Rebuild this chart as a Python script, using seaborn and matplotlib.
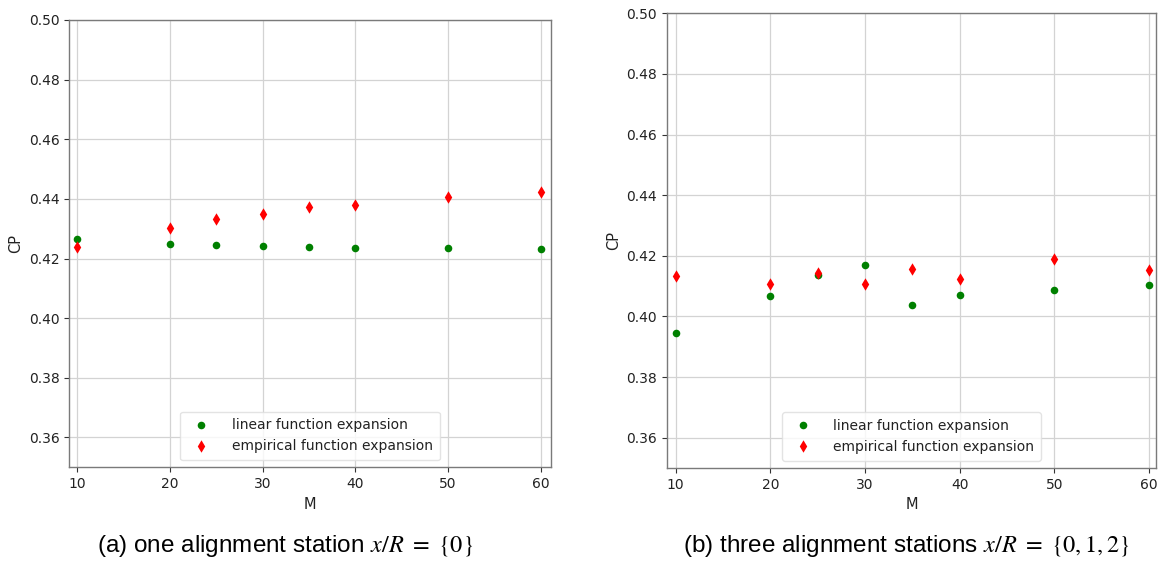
import matplotlib
matplotlib.use("Agg")
import matplotlib.pyplot as plt
import seaborn as sns
import pandas as pd
from matplotlib import font_manager

# ---- data ----
M_values = [10, 20, 25, 30, 35, 40, 50, 60]
one_station_linear = [0.4267, 0.4248, 0.4246, 0.4241, 0.4239, 0.4237, 0.4235, 0.4232]
one_station_empirical = [0.4238, 0.4304, 0.4334, 0.4350, 0.4374, 0.4381, 0.4406, 0.4424]
three_station_linear = [0.3945, 0.4066, 0.4137, 0.4170, 0.4039, 0.4070, 0.4087, 0.4103]
three_station_empirical = [0.4134, 0.4108, 0.4142, 0.4108, 0.4156, 0.4125, 0.4190, 0.4152]
series_labels = ["linear function expansion", "empirical function expansion"]
x_ticks = [10, 20, 30, 40, 50, 60]
y_ticks = [0.36, 0.38, 0.40, 0.42, 0.44, 0.46, 0.48, 0.50]
captions = [r"(a) one alignment station $x/R\ =\ \{0\}$",
            r"(b) three alignment stations $x/R\ =\ \{0, 1, 2\}$"]

sns.set_style("ticks")
plt.rcParams["font.family"] = ["DejaVu Sans"]
plt.rcParams["mathtext.fontset"] = "stix"

names = {f.name for f in font_manager.fontManager.ttflist}
cap_font = "Liberation Sans Narrow" if "Liberation Sans Narrow" in names else "Liberation Sans"
cap_size = 17.5 if cap_font == "Liberation Sans" else 19

fig = plt.figure(figsize=(11.61, 5.63), dpi=100)
ax1 = fig.add_axes([69.3 / 1161, 1 - 467.3 / 563, (550.7 - 69.3) / 1161, (467.3 - 20) / 563])
ax2 = fig.add_axes([666.7 / 1161, 1 - 468 / 563, (1156.3 - 666.7) / 1161, (468 - 13.3) / 563])

panels = [
    (ax1, one_station_linear, one_station_empirical, (9.17, 61.05)),
    (ax2, three_station_linear, three_station_empirical, (9.05, 60.77)),
]

for ax, lin, emp, xlim in panels:
    df_lin = pd.DataFrame({"M": M_values, "CP": lin})
    df_emp = pd.DataFrame({"M": M_values, "CP": emp})
    sns.scatterplot(data=df_lin, x="M", y="CP", ax=ax, color="green", marker="o",
                    s=30, linewidth=0, label=series_labels[0], zorder=3)
    sns.scatterplot(data=df_emp, x="M", y="CP", ax=ax, color="red", marker="d",
                    s=40, linewidth=0, label=series_labels[1], zorder=3)
    ax.set_xlim(*xlim)
    ax.set_ylim(0.35, 0.50)
    ax.set_xticks(x_ticks)
    ax.set_yticks(y_ticks)
    ax.set_yticklabels([f"{v:.2f}" for v in y_ticks])
    ax.grid(True, color="#d3d3d3", linewidth=0.9)
    ax.set_axisbelow(True)
    for sp in ax.spines.values():
        sp.set_visible(True)
        sp.set_color("#7a7a7a")
        sp.set_linewidth(1.0)
    ax.tick_params(labelsize=10, colors="#333333", length=3.5, width=0.8, labelcolor="#222222")
    ax.set_xlabel("M", fontsize=10.5, color="#222222")
    ax.set_ylabel("CP", fontsize=10.5, color="#222222")
    leg = ax.legend(loc="lower center", fontsize=10, scatterpoints=1, scatteryoffsets=[0.5],
                    frameon=True, borderpad=0.5, handletextpad=1.2)
    leg.get_frame().set_edgecolor("#dddddd")
    for t in leg.get_texts():
        t.set_color("#222222")

fig.text(285 / 1161, 1 - 546 / 563, captions[0], ha="center", va="center",
         fontsize=cap_size, family=cap_font, color="black")
fig.text(906 / 1161, 1 - 546 / 563, captions[1], ha="center", va="center",
         fontsize=cap_size, family=cap_font, color="black")

fig.savefig("out.png", dpi=100)
